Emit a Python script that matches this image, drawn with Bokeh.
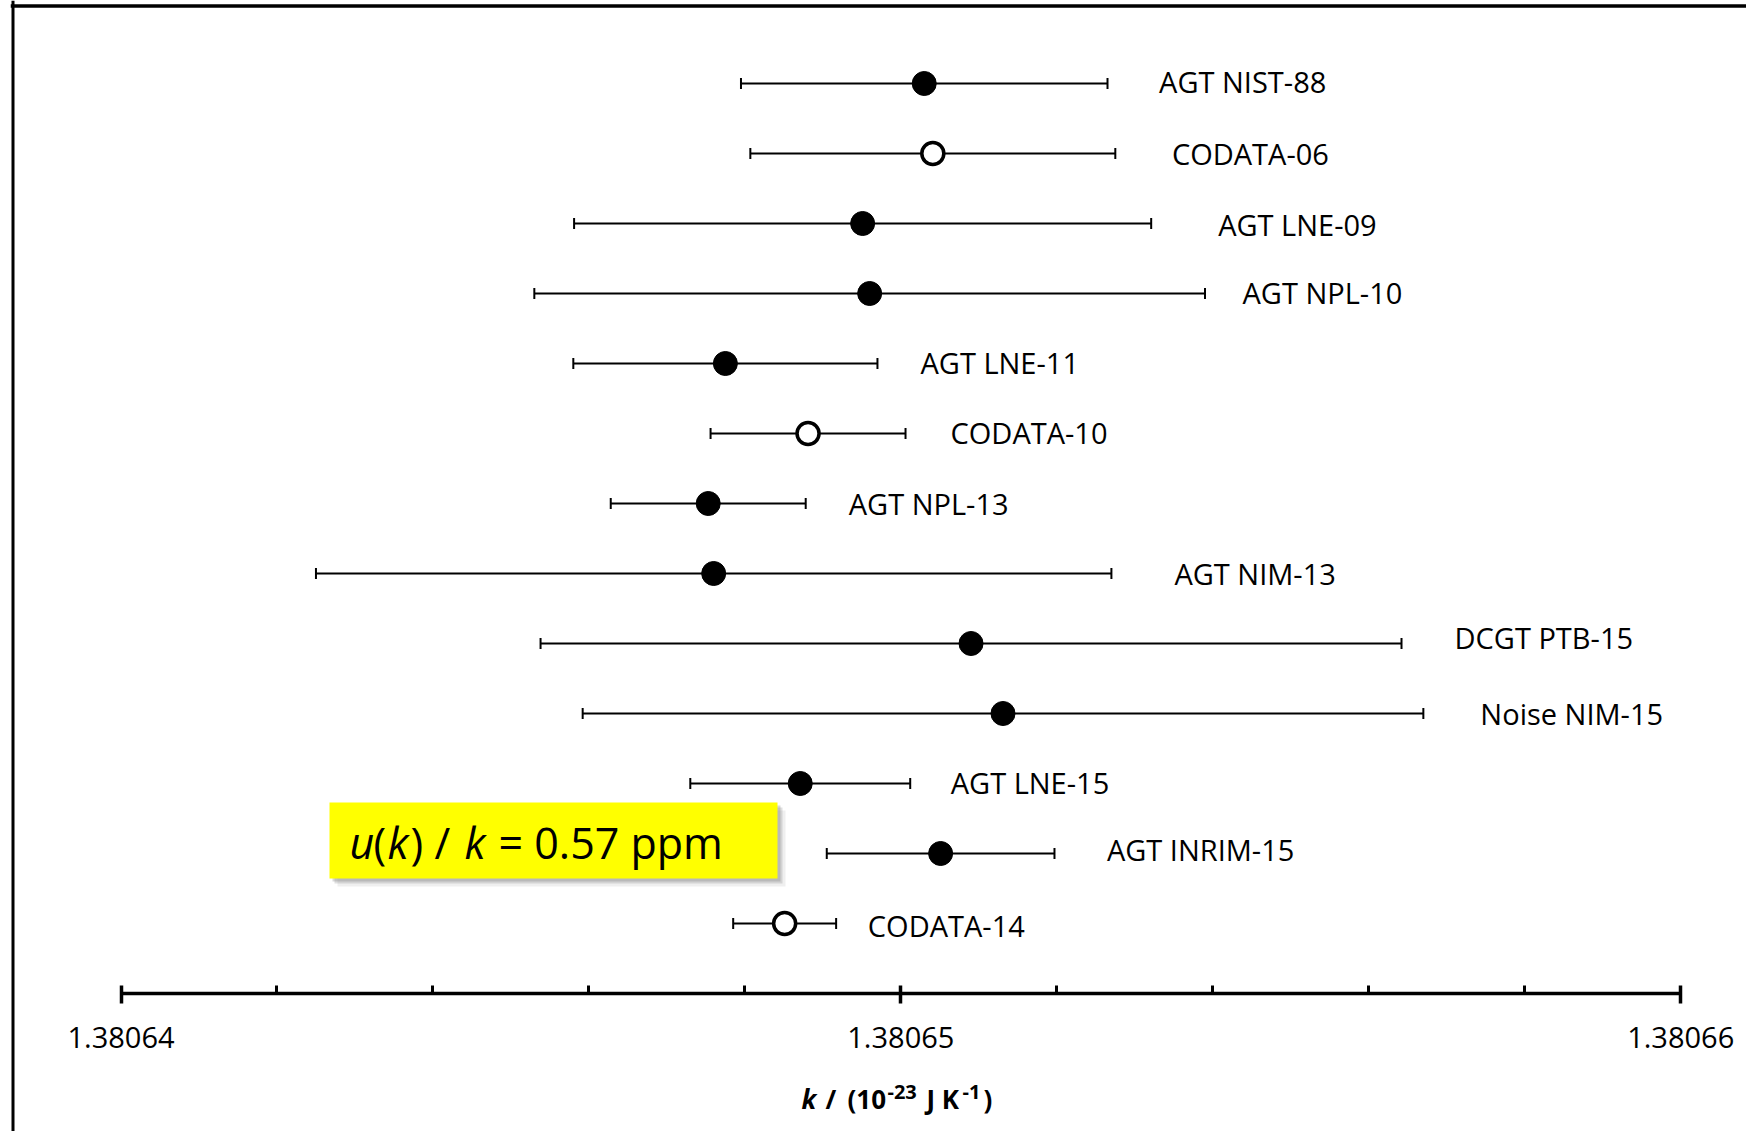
from bokeh.plotting import figure
from bokeh.models import (ColumnDataSource, Range1d, LinearAxis, FixedTicker,
                          PrintfTickFormatter, Whisker, TeeHead, BoxAnnotation,
                          Label, Span)
from bokeh.core.properties import value
from bokeh.embed import file_html
from bokeh.resources import INLINE

# ---------------- data (k in units of 1e-23 J/K) ----------------
names = ["AGT NIST-88", "CODATA-06", "AGT LNE-09", "AGT NPL-10", "AGT LNE-11",
         "CODATA-10", "AGT NPL-13", "AGT NIM-13", "DCGT PTB-15", "Noise NIM-15",
         "AGT LNE-15", "AGT INRIM-15", "CODATA-14"]
k_values = [1.38065030, 1.38065041, 1.38064951, 1.38064960, 1.38064775,
            1.38064881, 1.38064753, 1.38064760, 1.38065090, 1.38065131,
            1.38064871, 1.38065051, 1.38064851]
u_values = [0.00000235, 0.00000234, 0.00000370, 0.00000430, 0.00000195,
            0.00000125, 0.00000125, 0.00000510, 0.00000552, 0.00000539,
            0.00000141, 0.00000146, 0.00000066]
is_codata = [False, True, False, False, False, True, False, False, False,
             False, False, False, True]
major_ticks = [1.38064, 1.38065, 1.38066]
minor_ticks = [1.380642, 1.380644, 1.380646, 1.380648,
               1.380652, 1.380654, 1.380656, 1.380658]

# ---------------- layout (pixels) ----------------
W, H = 1746, 1131
FRAME_LEFT = 10
X0_PX = 120.5           # pixel of first major tick
PX_PER_UNIT = 77.985e6  # pixels per unit of k
AXIS_Y_PX = 993
ROW_PX = 70.0
K0 = major_ticks[0]
BASELINE_FIX = 0.34     # label anchor correction (fraction of font size)

def xv(px):
    return K0 + (px - X0_PX) / PX_PER_UNIT

def yv(py):
    return (AXIS_Y_PX - py) / ROW_PX

def yb(baseline_px, font_px):
    return yv(baseline_px - BASELINE_FIX * font_px)

label_gap = [51.6, 56.6, 67, 37.5, 43, 45, 43, 63, 53, 57, 40.5, 52.4, 31.7]
label_dy = [-2, 0, 1, -1, -1, -1, 0, 0, -6, 0, -1, -4, 2]

n = len(names)
rows = [n - i for i in range(n)]
lower = [k - u for k, u in zip(k_values, u_values)]
upper = [k + u for k, u in zip(k_values, u_values)]

src = ColumnDataSource(dict(name=names, k=k_values, y=rows, lower=lower,
                            upper=upper, gap=label_gap, dy=label_dy))
filled_src = ColumnDataSource(dict(
    k=[k for k, c in zip(k_values, is_codata) if not c],
    y=[y for y, c in zip(rows, is_codata) if not c]))
open_src = ColumnDataSource(dict(
    k=[k for k, c in zip(k_values, is_codata) if c],
    y=[y for y, c in zip(rows, is_codata) if c]))

p = figure(width=W, height=H,
           x_range=Range1d(xv(FRAME_LEFT), xv(W)),
           y_range=Range1d(yv(H), yv(0)),
           x_axis_type=None, y_axis_type=None,
           toolbar_location=None, output_backend="svg",
           min_border=0, min_border_left=FRAME_LEFT)
p.outline_line_color = None
p.background_fill_color = "white"
p.border_fill_color = "white"

# page border (left and top)
p.add_layout(Span(location=xv(12.5), dimension="height", line_color="black", line_width=3))
p.add_layout(Span(location=yv(5.5), dimension="width", line_color="black", line_width=3.5))

# error bars
wh = Whisker(source=src, base="y", lower="lower", upper="upper", dimension="width",
             line_color="black", line_width=2, level="underlay",
             upper_head=TeeHead(size=11, line_width=2, line_color="black"),
             lower_head=TeeHead(size=11, line_width=2, line_color="black"))
p.add_layout(wh)

p.scatter("k", "y", source=filled_src, marker="circle", size=24,
          fill_color="black", line_color="black")
p.scatter("k", "y", source=open_src, marker="circle", size=22,
          fill_color="white", line_color="black", line_width=3.5)

p.text(x="upper", y="y", text="name", source=src, x_offset="gap", y_offset="dy",
       text_font=value("Open Sans"), text_font_size="29px", text_color="black",
       text_align="left", text_baseline="middle")

# x axis
ax = LinearAxis(fixed_location=0, bounds=(major_ticks[0], major_ticks[-1]),
                ticker=FixedTicker(ticks=major_ticks, minor_ticks=minor_ticks),
                formatter=PrintfTickFormatter(format="%.5f"))
ax.axis_line_width = 3.5
ax.axis_line_color = "black"
ax.major_tick_in = 8
ax.major_tick_out = 10
ax.major_tick_line_width = 3.5
ax.major_tick_line_color = "black"
ax.minor_tick_in = 8
ax.minor_tick_out = 0
ax.minor_tick_line_width = 3
ax.minor_tick_line_color = "black"
ax.major_label_text_font = "Open Sans"
ax.major_label_text_font_size = "29px"
ax.major_label_text_color = "black"
ax.major_label_standoff = 23
p.add_layout(ax, "below")

# axis title: k / (10^-23 J K^-1)
TB = 1107
MAIN, SUP = 26, 20
title_parts = [
    ("k", 801, TB, MAIN, "bold italic"),
    ("/", 825, TB, MAIN, "bold"),
    ("(10", 847, TB, MAIN, "bold"),
    ("-23", 887, TB - 9, SUP, "bold"),
    ("J K", 926, TB, MAIN, "bold"),
    ("-1", 962, TB - 9, SUP, "bold"),
    (")", 983, TB, MAIN, "bold"),
]
for t, px, py, fs, st in title_parts:
    p.add_layout(Label(x=xv(px), y=yb(py, fs), text=t, text_font="Open Sans",
                       text_font_size=f"{fs}px", text_font_style=st, text_color="black",
                       text_align="left", text_baseline="alphabetic"))

# yellow box with shadow
BL, BR, BT, BB = 329, 777, 802, 878
for off, alpha in [(8, 0.12), (5, 0.25), (3, 0.3)]:
    p.add_layout(BoxAnnotation(left=xv(BL + off), right=xv(BR + off),
                               top=yv(BT + off), bottom=yv(BB + off),
                               fill_color="#7f7f7f", fill_alpha=alpha,
                               line_color=None))
p.add_layout(BoxAnnotation(left=xv(BL), right=xv(BR), top=yv(BT), bottom=yv(BB),
                           fill_color="#ffff00", fill_alpha=1.0, line_color=None))

BASE, BOXFS = 857, 43
box_parts = [
    ("u", 349, "italic"),
    ("(", 373, "normal"),
    ("k", 387, "italic"),
    (")", 410, "normal"),
    ("/", 434, "normal"),
    ("k", 464, "italic"),
    ("= 0.57 ppm", 498, "normal"),
]
for t, px, st in box_parts:
    p.add_layout(Label(x=xv(px), y=yb(BASE, BOXFS), text=t, text_font="Open Sans",
                       text_font_size=f"{BOXFS}px", text_font_style=st, text_color="black",
                       text_align="left", text_baseline="alphabetic"))

open("out.html", "w").write(file_html(p, INLINE))
